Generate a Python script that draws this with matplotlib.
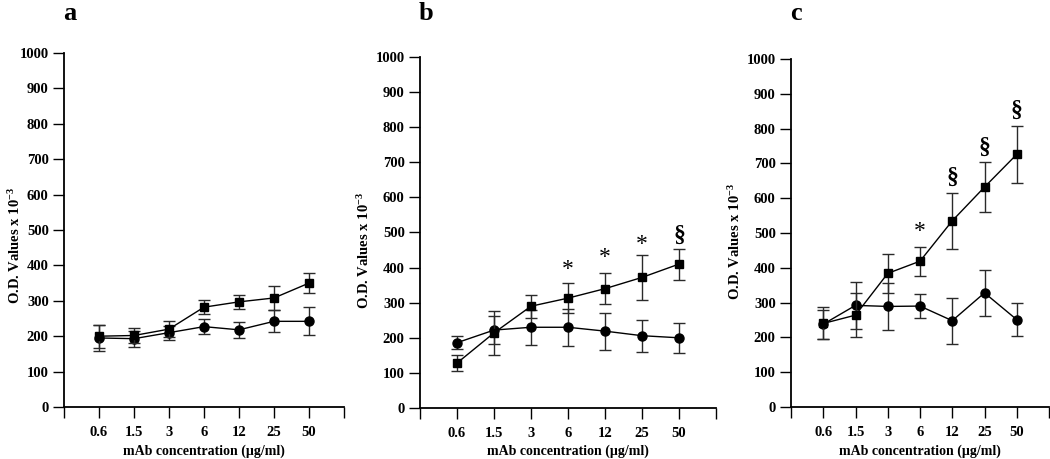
import matplotlib
matplotlib.use("Agg")
import matplotlib.pyplot as plt
import numpy as np

concentrations = ["0.6", "1.5", "3", "6", "12", "25", "50"]

# Panel a
a_sq = [200, 202, 220, 282, 297, 308, 350]
a_sq_err = [33, 20, 22, 19, 20, 33, 28]
a_ci = [195, 193, 210, 227, 218, 242, 242]
a_ci_err = [37, 23, 20, 22, 23, 31, 40]
a_marks = ["", "", "", "", "", "", ""]
a_mark_y = [0, 0, 0, 0, 0, 0, 0]

# Panel b
b_sq = [128, 214, 290, 313, 340, 372, 410]
b_sq_err = [22, 63, 33, 42, 45, 63, 44]
b_ci = [186, 222, 230, 230, 219, 206, 200]
b_ci_err = [18, 40, 50, 52, 53, 46, 43]
b_marks = ["", "", "", "*", "*", "*", "§"]
b_mark_y = [0, 0, 0, 407, 441, 478, 493]

# Panel c
c_sq = [240, 264, 384, 419, 535, 632, 726]
c_sq_err = [46, 64, 55, 42, 80, 72, 82]
c_ci = [238, 292, 289, 290, 248, 328, 251]
c_ci_err = [42, 67, 67, 34, 66, 67, 47]
c_marks = ["", "", "", "*", "§", "§", "§"]
c_mark_y = [0, 0, 0, 517, 661, 747, 853]

ylabel_text = "O.D. Values x 10$^{-3}$"

# (letter, data..., axes box in pixels [left, right, bottom, top], ylabel x px, ylabel centre y px)
panels = [
    ("a", a_sq, a_sq_err, a_ci, a_ci_err, a_marks, a_mark_y, [64, 344, 407, 53], 15, 245),
    ("b", b_sq, b_sq_err, b_ci, b_ci_err, b_marks, b_mark_y, [420, 716, 408, 57], 364, 250),
    ("c", c_sq, c_sq_err, c_ci, c_ci_err, c_marks, c_mark_y, [791, 1049, 407, 59], 735, 241),
]

W, H = 1050, 459
fig = plt.figure(figsize=(W/100, H/100), dpi=100)
plt.rcParams['font.family'] = ['Liberation Serif', 'DejaVu Serif']
plt.rcParams['mathtext.fontset'] = 'custom'
plt.rcParams['mathtext.rm'] = 'Liberation Serif:bold'
plt.rcParams['mathtext.it'] = 'Liberation Serif:bold'
plt.rcParams['mathtext.bf'] = 'Liberation Serif:bold'

x = np.arange(1, 8)
for letter, sq, sqe, ci, cie, marks, my, (l, r, b, t), ylx, yly in panels:
    ax = fig.add_axes([l/W, (H-b)/H, (r-l)/W, (b-t)/H])
    ax.errorbar(x, ci, yerr=cie, color='black', ecolor='#2a2a2a', elinewidth=1.0,
                capsize=4.5, capthick=1.0, marker='o', markersize=6.5, lw=1.0, zorder=3)
    ax.errorbar(x, sq, yerr=sqe, color='black', ecolor='#2a2a2a', elinewidth=1.0,
                capsize=4.5, capthick=1.0, marker='s', markersize=5.5, lw=1.0, zorder=4)
    for xi, m, yv in zip(x, marks, my):
        if m == '*':
            ax.text(xi, yv - 12, m, ha='center', va='center', fontsize=17)
        elif m:
            ax.text(xi, yv, m, ha='center', va='center', fontsize=17, fontweight='bold')
    ax.set_xlim(0, 8)
    ax.set_ylim(0, 1000)
    ax.set_xticks(np.arange(0, 9))
    ax.set_xticklabels([""] + concentrations + [""])
    ax.set_yticks(np.arange(0, 1001, 100))
    for s in ['top', 'right']:
        ax.spines[s].set_visible(False)
    for s in ['left', 'bottom']:
        ax.spines[s].set_linewidth(1.3)
    ax.tick_params(axis='both', direction='out', length=8, width=1.0, labelsize=10.5, pad=3)
    ax.tick_params(axis='x', pad=6)
    for lab in ax.get_xticklabels() + ax.get_yticklabels():
        lab.set_fontweight('bold')
    ax.set_xlabel("mAb concentration (µg/ml)", fontsize=10, fontweight='bold')
    ax.xaxis.label.set_va('center')
    ax.xaxis.set_label_coords(0.5, (b - 451) / (b - t))
    ax.set_ylabel(ylabel_text, fontsize=10.5, fontweight='bold')
    ax.yaxis.label.set_va('center')
    ax.yaxis.set_label_coords((ylx - l) / (r - l), (b - yly) / (b - t))
    fig.text((l - 1)/W, 1 - 13/H, letter, ha='left', va='center', fontsize=19, fontweight='bold')

fig.savefig("out.png", dpi=100)
